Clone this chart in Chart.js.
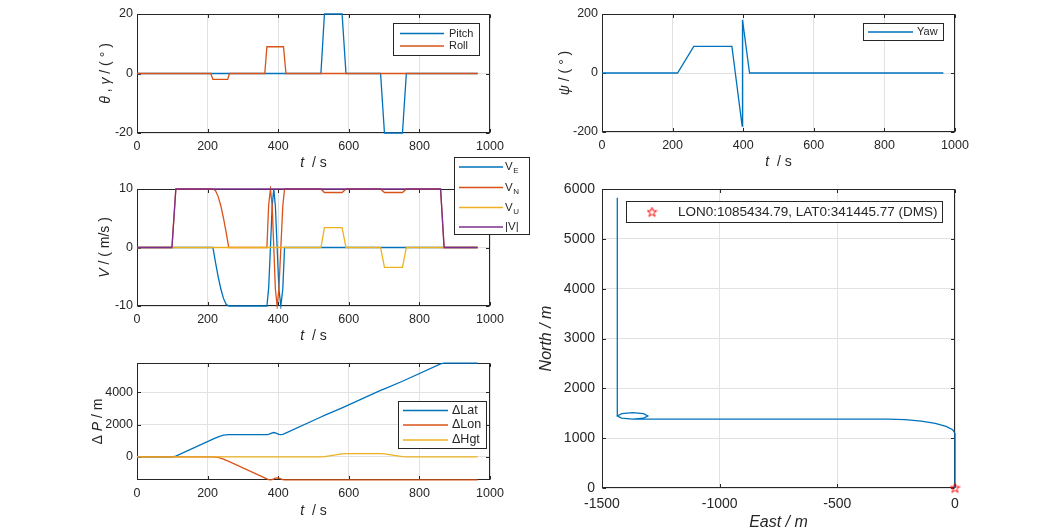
<!DOCTYPE html>
<html>
<head>
<meta charset="utf-8">
<script src="https://cdn.jsdelivr.net/npm/chart.js@4.4.0/dist/chart.umd.min.js"></script>
<style>
  html, body { margin: 0; padding: 0; background: #fff; width: 1055px; height: 529px; overflow: hidden; }
  canvas { position: absolute; left: 0; top: 0; }
</style>
</head>
<body>
<canvas id="att" width="1055" height="529"></canvas>
<canvas id="yaw" width="1055" height="529"></canvas>
<canvas id="vel" width="1055" height="529"></canvas>
<canvas id="pos" width="1055" height="529"></canvas>
<canvas id="trk" width="1055" height="529"></canvas>
<script>
// ── tick values ─────────────────────────────────────────
const tTicks = [0, 200, 400, 600, 800, 1000];
const attTicks = [-20, 0, 20];
const yawTicks = [-200, 0, 200];
const velTicks = [-10, 0, 10];
const posTicks = [0, 2000, 4000];
const eastTicks = [-1500, -1000, -500, 0];
const northTicks = [0, 1000, 2000, 3000, 4000, 5000, 6000];

// ── attitude (deg) ──────────────────────────────────────
const pitchT = [0, 521, 531, 581, 592, 690, 701, 752, 763, 965];
const pitchDeg = [0, 0, 20, 20, 0, 0, -20, -20, 0, 0];
const rollT = [0, 209, 215, 257, 262, 362, 368, 415, 422, 965];
const rollDeg = [0, 0, -2, -2, 0, 0, 9, 9, 0, 0];
const yawT = [0, 214, 260, 368, 397, 398, 418, 967];
const yawDeg = [0, 0, 90, 90, -180, 180, 0, 0];

// ── velocity (m/s) ──────────────────────────────────────
const velT = [0, 99, 110, 215, 222.5, 230, 237.5, 245, 252.5, 260, 368, 373, 378, 383, 387.5, 392, 397, 402, 407.5, 413, 418, 521, 531, 581, 592, 690, 701, 752, 763, 860, 870, 965];
const velE = [0, 0, 0, 0, -2.6, -5, -7.1, -8.7, -9.7, -10, -10, -6.9, 0, 7.1, 10, 7.1, 0, -7.1, -10, -7.1, 0, 0, 0, 0, 0, 0, 0, 0, 0, 0, 0, 0];
const velN = [0, 0, 10, 10, 9.7, 8.7, 7.1, 5, 2.6, 0, 0, 7.3, 10, 7.1, 0, -7.1, -10, -7.1, 0, 7.1, 10, 10, 9.4, 9.4, 10, 10, 9.4, 9.4, 10, 10, 0, 0];
const velU = [0, 0, 0, 0, 0, 0, 0, 0, 0, 0, 0, 0, 0, 0, 0, 0, 0, 0, 0, 0, 0, 0, 3.4, 3.4, 0, 0, -3.4, -3.4, 0, 0, 0, 0];
const velAbs = [0, 0, 10, 10, 10, 10, 10, 10, 10, 10, 10, 10, 10, 10, 10, 10, 10, 10, 10, 10, 10, 10, 10, 10, 10, 10, 10, 10, 10, 10, 0, 0];

// ── position offsets (m) ────────────────────────────────
const posT = [0, 99, 110, 215, 230, 245, 260, 368, 373, 378, 383, 387.5, 392, 397, 402, 407.5, 413, 418, 521, 531, 581, 592, 690, 701, 752, 763, 860, 870, 965];
const dLat = [0, 0, 50, 1095, 1238, 1343, 1381, 1381, 1401, 1446, 1492, 1511, 1492, 1446, 1400, 1381, 1400, 1446, 2476, 2573, 3043, 3150, 4130, 4227, 4697, 4804, 5774, 5825, 5825];
const dLon = [0, 0, 0, 0, -38, -143, -286, -1370, -1417, -1435, -1416, -1370, -1324, -1305, -1324, -1370, -1416, -1435, -1435, -1435, -1435, -1435, -1435, -1435, -1435, -1435, -1435, -1435, -1435];
const dHgt = [0, 0, 0, 0, 0, 0, 0, 0, 0, 0, 0, 0, 0, 0, 0, 0, 0, 0, 0, 17, 188, 205, 205, 188, 17, 0, 0, 0, 0];
const posMin = -1440, posMax = 5830;

// ── ground track (m) ────────────────────────────────────
const trackEast = [0, 0, -10, -38, -84, -143, -212, -286, -1370, -1417, -1435, -1416, -1370, -1324, -1305, -1324, -1370, -1416, -1435, -1435];
const trackNorth = [0, 1095, 1169, 1238, 1297, 1343, 1371, 1381, 1381, 1401, 1446, 1492, 1511, 1492, 1446, 1400, 1381, 1400, 1446, 5825];
const originEast = [0];
const originNorth = [0];
const originLabel = 'LON0:1085434.79, LAT0:341445.77 (DMS)';

const C = {
  blue: '#0072BD', orange: '#D95319', yellow: '#EDB120', purple: '#7E2F8E',
  axis: '#262626', grid: '#e2e2e2', star: '#ff0000',
};
const FONT = "'Liberation Sans', Arial, Helvetica, sans-serif";
const AXW = 60, AXH = 40;   // room kept for tick labels left of / below each plot box

// red pentagram marker
const starImg = document.createElement('canvas');
starImg.width = 11; starImg.height = 11;
(() => {
  const g = starImg.getContext('2d');
  g.strokeStyle = C.star; g.lineWidth = 1;
  g.beginPath();
  for (let k = 0; k < 10; k++) {
    const r = k % 2 ? 2.0 : 5.0;
    const a = -Math.PI / 2 + k * Math.PI / 5;
    const px = 5.5 + r * Math.cos(a), py = 5.8 + r * Math.sin(a);
    k ? g.lineTo(px, py) : g.moveTo(px, py);
  }
  g.closePath(); g.stroke();
})();

function pts(xs, ys) { return xs.map((x, i) => ({ x, y: ys[i] })); }

function series(label, xs, ys, color, i) {
  return {
    label, data: pts(xs, ys), showLine: true, borderColor: color, backgroundColor: color,
    borderWidth: 1.3, pointRadius: 0, tension: 0, order: -i, clip: 3, lineColor: color,
  };
}

function drawParts(ctx, parts, size, cx, cy, rot) {
  ctx.save();
  ctx.translate(cx, cy);
  if (rot) ctx.rotate(-Math.PI / 2);
  ctx.fillStyle = C.axis;
  ctx.textBaseline = 'middle';
  let w = 0;
  parts.forEach(p => { ctx.font = (p.i ? 'italic ' : '') + size + 'px ' + FONT; w += ctx.measureText(p.t).width; });
  let x = -w / 2;
  parts.forEach(p => {
    ctx.font = (p.i ? 'italic ' : '') + size + 'px ' + FONT;
    ctx.fillText(p.t, x, 0);
    x += ctx.measureText(p.t).width;
  });
  ctx.restore();
}

// MATLAB-like axes box, inward ticks, mixed-style titles and boxed legend
const matlabAxes = {
  id: 'matlabAxes',
  beforeDatasetsDraw(chart) {
    const { ctx, chartArea: a, scales } = chart;
    ctx.save();
    ctx.strokeStyle = C.axis; ctx.lineWidth = 1;
    const L = a.left + 0.5, R = a.right - 0.5, T = a.top + 0.5, B = a.bottom - 0.5;
    ctx.strokeRect(L, T, R - L, B - T);
    const tl = 3.5;
    ctx.beginPath();
    scales.x.ticks.forEach(t => {
      const px = Math.round(scales.x.getPixelForValue(t.value)) + 0.5;
      ctx.moveTo(px, B); ctx.lineTo(px, B - tl);
      ctx.moveTo(px, T); ctx.lineTo(px, T + tl);
    });
    scales.y.ticks.forEach(t => {
      const py = Math.round(scales.y.getPixelForValue(t.value)) + 0.5;
      ctx.moveTo(L, py); ctx.lineTo(L + tl, py);
      ctx.moveTo(R, py); ctx.lineTo(R - tl, py);
    });
    ctx.stroke();
    ctx.restore();
  },
  afterDraw(chart, args, o) {
    const { ctx, chartArea: a } = chart;
    drawParts(ctx, o.xTitle, o.titleSize, (a.left + a.right) / 2, o.xTitleY, false);
    drawParts(ctx, o.yTitle, o.titleSize, o.yTitleX, (a.top + a.bottom) / 2, true);
    const lg = o.legend;
    if (!lg) return;
    ctx.save();
    ctx.fillStyle = '#fff';
    ctx.fillRect(lg.box[0], lg.box[1], lg.box[2] - lg.box[0], lg.box[3] - lg.box[1]);
    ctx.strokeStyle = C.axis; ctx.lineWidth = 1;
    ctx.strokeRect(lg.box[0] + 0.5, lg.box[1] + 0.5, lg.box[2] - lg.box[0] - 1, lg.box[3] - lg.box[1] - 1);
    lg.rows.forEach((y, i) => {
      const ds = chart.data.datasets[i];
      if (ds.pointStyle === starImg) {
        ctx.drawImage(starImg, lg.star - 5.5, y - 5.5);
      } else {
        ctx.strokeStyle = ds.lineColor; ctx.lineWidth = 1.5;
        ctx.beginPath(); ctx.moveTo(lg.x0, y); ctx.lineTo(lg.x1, y); ctx.stroke();
      }
      const [main, sub] = ds.label.split('_');
      ctx.fillStyle = C.axis; ctx.textBaseline = 'middle';
      ctx.font = lg.size + 'px ' + FONT;
      ctx.fillText(main, lg.tx, y);
      if (sub) {
        const w = ctx.measureText(main).width;
        ctx.font = Math.round(lg.size * 0.72) + 'px ' + FONT;
        ctx.fillText(sub, lg.tx + w + 0.5, y + 4);
      }
    });
    ctx.restore();
  },
};

function axis(min, max, ticks, size, pad, vertical) {
  return {
    type: 'linear', min, max,
    afterBuildTicks: s => { s.ticks = ticks.map(v => ({ value: v })); },
    afterFit: s => { if (vertical) s.width = AXW; else s.height = AXH; },
    grid: { color: C.grid, lineWidth: 1, drawTicks: false },
    border: { display: false },
    ticks: {
      autoSkip: false, maxRotation: 0, minRotation: 0, padding: pad, color: C.axis,
      font: { family: FONT, size }, callback: v => String(v),
    },
  };
}

function makeChart(id, rect, datasets, xs, ys, deco) {
  const [L, T, R, B] = rect;
  return new Chart(document.getElementById(id), {
    type: 'scatter',
    data: { datasets },
    options: {
      responsive: false, animation: false, events: [],
      layout: { padding: { left: L - AXW, top: T, right: 1055 - R, bottom: 529 - B - AXH } },
      scales: { x: xs, y: ys },
      plugins: { legend: { display: false }, tooltip: { enabled: false }, matlabAxes: deco },
    },
    plugins: [matlabAxes],
  });
}

const tTitle = [{ t: 't', i: true }, { t: '  / s' }];

// ── θ, γ ────────────────────────────────────────────────
makeChart('att', [137, 14, 490, 133], [
  series('Pitch', pitchT, pitchDeg, C.blue, 0),
  series('Roll', rollT, rollDeg, C.orange, 1),
], axis(0, 1000, tTicks, 12.5, 6, false), axis(-20, 20, attTicks, 12.5, 4, true), {
  xTitle: tTitle, xTitleY: 163, titleSize: 14,
  yTitle: [{ t: 'θ', i: true }, { t: ' , ' }, { t: 'γ', i: true }, { t: ' / ( ° )' }], yTitleX: 106,
  legend: { box: [393, 23, 480, 56], rows: [33.5, 46], x0: 400, x1: 444, tx: 449, size: 11 },
});

// ── ψ ──────────────────────────────────────────────────
makeChart('yaw', [602, 14, 955, 132], [
  series('Yaw', yawT, yawDeg, C.blue, 0),
], axis(0, 1000, tTicks, 12.5, 6, false), axis(-200, 200, yawTicks, 12.5, 4, true), {
  xTitle: tTitle, xTitleY: 162, titleSize: 14,
  yTitle: [{ t: 'ψ', i: true }, { t: ' / ( ° )' }], yTitleX: 565,
  legend: { box: [863, 23, 944, 41], rows: [32], x0: 868, x1: 913, tx: 917, size: 11 },
});

// ── V ──────────────────────────────────────────────────
makeChart('vel', [137, 189, 490, 306], [
  series('V_E', velT, velE, C.blue, 0),
  series('V_N', velT, velN, C.orange, 1),
  series('V_U', velT, velU, C.yellow, 2),
  series('|V|', velT, velAbs, C.purple, 3),
], axis(0, 1000, tTicks, 12.5, 6, false), axis(-10, 10, velTicks, 12.5, 4, true), {
  xTitle: tTitle, xTitleY: 336, titleSize: 14,
  yTitle: [{ t: 'V', i: true }, { t: ' / ( m/s )' }], yTitleX: 105,
  legend: { box: [454, 157, 530, 235], rows: [167, 187.5, 207.5, 227], x0: 459, x1: 503, tx: 505, size: 11.5 },
});

// ── ΔP ─────────────────────────────────────────────────
makeChart('pos', [137, 363, 490, 480], [
  series('ΔLat', posT, dLat, C.blue, 0),
  series('ΔLon', posT, dLon, C.orange, 1),
  series('ΔHgt', posT, dHgt, C.yellow, 2),
], axis(0, 1000, tTicks, 12.5, 6, false), axis(posMin, posMax, posTicks, 12.5, 4, true), {
  xTitle: tTitle, xTitleY: 511, titleSize: 14,
  yTitle: [{ t: 'Δ ' }, { t: 'P', i: true }, { t: ' / m' }], yTitleX: 98,
  legend: { box: [398, 401, 487, 449], rows: [410.5, 425, 440], x0: 403, x1: 448, tx: 452, size: 12.5 },
});

// ── ground track ───────────────────────────────────────
const trackDs = series('track', trackEast, trackNorth, C.blue, 0);
const originDs = {
  label: originLabel, data: pts(originEast, originNorth), showLine: false,
  pointStyle: starImg, pointRadius: 5, clip: false, order: -1,
};
makeChart('trk', [602, 189, 955, 488], [originDs, trackDs],
  axis(-1500, 0, eastTicks, 14, 8, false), axis(0, 6000, northTicks, 14, 7, true), {
  xTitle: [{ t: 'East / m', i: true }], xTitleY: 523, titleSize: 16,
  yTitle: [{ t: 'North / m', i: true }], yTitleX: 547,
  legend: { box: [626, 201, 943, 223], rows: [212], star: 652, tx: 678, size: 13.5 },
});
</script>
</body>
</html>
